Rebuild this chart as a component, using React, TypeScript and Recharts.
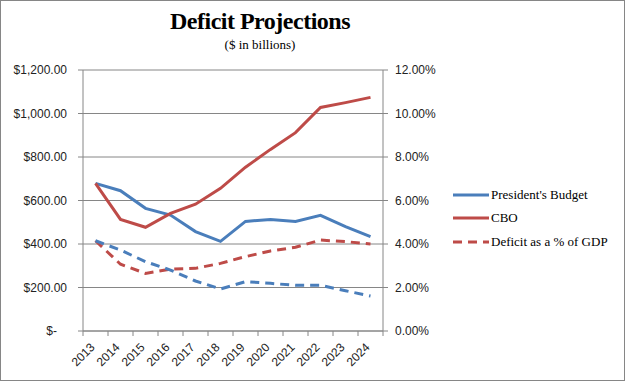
import { LineChart, Line, XAxis, YAxis, CartesianGrid, Legend } from "recharts"

const years = ["2013", "2014", "2015", "2016", "2017", "2018", "2019", "2020", "2021", "2022", "2023", "2024"]
const presidentsBudget = [679, 645, 564, 533, 457, 412, 504, 513, 504, 532, 480, 434]
const cbo = [679, 513, 477, 541, 583, 656, 753, 835, 912, 1028, 1050, 1074]
const cboPctGdp = [4.15, 3.07, 2.65, 2.84, 2.88, 3.11, 3.42, 3.68, 3.85, 4.18, 4.11, 4.0]
const presidentPctGdp = [4.15, 3.72, 3.19, 2.8, 2.3, 1.93, 2.27, 2.19, 2.1, 2.1, 1.85, 1.61]
const dollarTicks = [0, 200, 400, 600, 800, 1000, 1200]
const pctTicks = [0, 2, 4, 6, 8, 10, 12]

const BLUE = "#4a7ebb"
const RED = "#be4b48"
const GRID = "#868686"

// x sits in the middle of each year's band so the tick marks fall on the band edges
const data = years.map((year, i) => ({
  x: i + 0.5,
  year,
  president: presidentsBudget[i],
  cbo: cbo[i],
  cboPct: cboPctGdp[i],
  presPct: presidentPctGdp[i],
}))

const legendItems = [
  { name: "President's Budget", color: BLUE, dash: undefined },
  { name: "CBO", color: RED, dash: undefined },
  { name: "Deficit as a % of GDP", color: RED, dash: "9 6" },
]

const fmtDollar = (v: number) =>
  v === 0
    ? "$-\u00a0\u00a0\u00a0"
    : "$" + v.toLocaleString("en-US", { minimumFractionDigits: 2, maximumFractionDigits: 2 })

const YearTick = (props: any) => {
  const { x, y, payload, width } = props
  const i = payload.value
  if (i >= years.length) return null
  const px = x + width / years.length / 2
  const py = y + 10
  return (
    <text
      x={px}
      y={py}
      transform={`rotate(-45, ${px}, ${py})`}
      textAnchor="end"
      fontSize={12}
      fontFamily="Liberation Sans, sans-serif"
      fill="#222"
    >
      {years[i]}
    </text>
  )
}

const LegendContent = () => (
  <div style={{ fontFamily: "Liberation Serif, serif", fontSize: 13, color: "#000" }}>
    {legendItems.map((item) => (
      <div key={item.name} style={{ display: "flex", alignItems: "center", height: 23.5 }}>
        <svg width={36} height={6} style={{ marginRight: 2 }}>
          <line x1={0} y1={3} x2={36} y2={3} stroke={item.color} strokeWidth={3} strokeDasharray={item.dash} />
        </svg>
        <span>{item.name}</span>
      </div>
    ))}
  </div>
)

export default function App() {
  return (
    <div style={{ position: "absolute", left: 0, top: 0, width: 625, height: 381, background: "#fff" }}>
      <div
        style={{
          position: "absolute",
          left: 0,
          top: 0,
          width: 625,
          height: 381,
          boxSizing: "border-box",
          border: "1px solid #868686",
          pointerEvents: "none",
          zIndex: 2,
        }}
      />
      <div
        style={{
          position: "absolute",
          left: 160,
          width: 200,
          top: 8,
          textAlign: "center",
          fontFamily: "Liberation Serif, serif",
          fontWeight: "bold",
          fontSize: 24,
          letterSpacing: -0.5,
          zIndex: 1,
        }}
      >
        Deficit Projections
      </div>
      <div
        style={{
          position: "absolute",
          left: 160,
          width: 200,
          top: 37,
          textAlign: "center",
          fontFamily: "Liberation Serif, serif",
          fontSize: 13,
          zIndex: 1,
        }}
      >
        ($ in billions)
      </div>
      <LineChart width={625} height={381} data={data} margin={{ top: 70, right: 10, bottom: 0, left: 0 }}>
        <CartesianGrid vertical={false} stroke={GRID} yAxisId="left" />
        <XAxis
          dataKey="x"
          type="number"
          domain={[0, years.length]}
          ticks={years.map((_, i) => i).concat(years.length)}
          interval={0}
          height={50}
          tick={<YearTick />}
          tickSize={5}
          axisLine={{ stroke: GRID }}
          tickLine={{ stroke: GRID }}
        />
        <YAxis
          yAxisId="left"
          domain={[0, 1200]}
          ticks={dollarTicks}
          width={83}
          tickFormatter={fmtDollar}
          tickSize={5}
          tickMargin={11}
          axisLine={{ stroke: GRID }}
          tickLine={{ stroke: GRID }}
          tick={{ fontSize: 12, fill: "#222", fontFamily: "Liberation Sans, sans-serif" }}
        />
        <YAxis
          yAxisId="right"
          orientation="right"
          domain={[0, 12]}
          ticks={pctTicks}
          width={57}
          tickFormatter={(v: number) => `${v.toFixed(2)}%`}
          tickSize={5}
          tickMargin={7}
          axisLine={{ stroke: GRID }}
          tickLine={{ stroke: GRID }}
          tick={{ fontSize: 12, fill: "#222", fontFamily: "Liberation Sans, sans-serif", textAnchor: "start" }}
        />
        <Legend
          layout="vertical"
          align="right"
          verticalAlign="middle"
          width={175}
          content={<LegendContent />}
          wrapperStyle={{ left: 453, top: 183 }}
        />
        <Line yAxisId="left" dataKey="president" name="President's Budget" stroke={BLUE} strokeWidth={3} dot={false} isAnimationActive={false} />
        <Line yAxisId="left" dataKey="cbo" name="CBO" stroke={RED} strokeWidth={3} dot={false} isAnimationActive={false} />
        <Line yAxisId="right" dataKey="cboPct" name="Deficit as a % of GDP" stroke={RED} strokeWidth={3} strokeDasharray="9 6" dot={false} isAnimationActive={false} />
        <Line yAxisId="right" dataKey="presPct" name="President's Deficit as a % of GDP" legendType="none" stroke={BLUE} strokeWidth={3} strokeDasharray="9 6" dot={false} isAnimationActive={false} />
      </LineChart>
    </div>
  )
}
